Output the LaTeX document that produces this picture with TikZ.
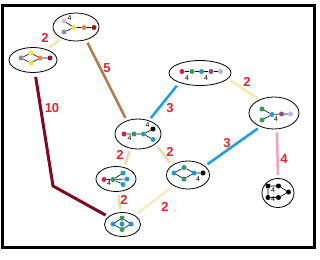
\documentclass[tikz,border=0pt]{standalone}
\usepackage{fontspec}
\setmainfont{Liberation Sans}
\usetikzlibrary{shapes.geometric}
\definecolor{lblred}{HTML}{E8222C}
\definecolor{cpale}{HTML}{EDE4B4}
\definecolor{cyel}{HTML}{F0EBB0}
\definecolor{cbeige}{HTML}{F2D8A6}
\definecolor{cpale2}{HTML}{F2EDC4}
\definecolor{cbrown}{HTML}{B5784A}
\definecolor{cmaroon}{HTML}{7F0A1F}
\definecolor{cblue}{HTML}{1AA0DC}
\definecolor{cpink}{HTML}{F0A4BC}
\definecolor{dred}{HTML}{E0203A}
\definecolor{dgreen}{HTML}{2E9E5A}
\definecolor{dblue}{HTML}{1E9BD7}
\definecolor{dpurple}{HTML}{8E4A8E}
\definecolor{dlav}{HTML}{B8B8D8}
\definecolor{dyellow}{HTML}{F2E23A}
\definecolor{dorange}{HTML}{F08040}
\definecolor{ddark}{HTML}{8B1A2A}
\definecolor{dgray}{HTML}{8C8CA8}
\definecolor{dpinkd}{HTML}{F0B0C8}
\begin{document}
\begin{tikzpicture}[x=1pt,y=-1pt,
  ell/.style={ellipse, draw=black, line width=0.8pt, inner sep=0pt, fill=white},
  dot/.style={circle, inner sep=0pt, minimum size=5pt},
  gedge/.style={line width=0.6pt, black},
  conn/.style={line width=2.5pt, shorten <=3pt, shorten >=3pt},
  lbl/.style={text=lblred, font=\fontsize{13}{13}\selectfont\bfseries, inner sep=0pt},
  four/.style={font=\fontsize{7}{7}\selectfont, inner sep=0pt}]
\useasboundingbox (0,0) rectangle (320,259);
\draw[line width=3pt] (2.5,5.5) rectangle (314.5,247.5);

% ellipses
\node[ell, minimum width=46pt, minimum height=28pt] (E1) at (76,27) {};
\node[ell, minimum width=48pt, minimum height=25pt] (E2) at (33,60) {};
\node[ell, minimum width=46pt, minimum height=30pt] (E3) at (138,134) {};
\node[ell, minimum width=62pt, minimum height=25pt] (E4) at (200,73) {};
\node[ell, minimum width=50pt, minimum height=32pt] (E5) at (274,113) {};
\node[ell, minimum width=40pt, minimum height=25pt] (E6) at (116,179) {};
\node[ell, minimum width=43pt, minimum height=28pt] (E7) at (188,175) {};
\node[ell, minimum width=36pt, minimum height=24pt] (E8) at (122.5,224.5) {};
\node[ell, minimum width=32pt, minimum height=29pt] (E9) at (278,193) {};

% connectors
\coordinate (c10) at (53,186);
\draw[conn, cpale] (E2) -- (E1);
\draw[conn, cbrown] (E1.-52) -- (E3.130);
\draw[conn, cmaroon, line width=3pt, shorten <=4pt] (E2) -- (c10) -- (E8);
\draw[conn, cblue, shorten >=4pt] (E3) -- (E4.205);
\draw[conn, cyel] (E4.-12) -- (E5.137);
\draw[conn, cpink] (E5.-80) -- (E9.north);
\draw[conn, cblue] (E7.28) -- (E5.225);
\draw[conn, cbeige] (E3.-118) -- (E6.55);
\draw[conn, cbeige] (E3.-29) -- (E7.149);
\draw[conn, cbeige] (E6.-80) -- (E8.100);
\draw[conn, cpale2] (E8) -- (E7);

% labels
\node[lbl] (l1) at (45,38) {2};
\node[lbl] (l2) at (107,68) {5};
\node[lbl] (l3) at (52,108) {10};
\node[lbl] (l4) at (170,108) {3};
\node[lbl] (l5) at (247,82) {2};
\node[lbl] (l6) at (227,143) {3};
\node[lbl] (l7) at (284,159) {4};
\node[lbl] (l8) at (120,155) {2};
\node[lbl] (l9) at (170,152) {2};
\node[lbl] (l10) at (124,200) {2};
\node[lbl] (l11) at (165,207) {2};

% E1 graph
\node[dot, fill=dpinkd] (a1) at (64,21) {};
\node[dot, fill=dgray] (a2) at (64,32) {};
\node[dot, fill=dyellow] (a3) at (74,27.5) {};
\node[dot, fill=dorange] (a4) at (84,27.5) {};
\node[dot, fill=ddark] (a5) at (94,27.5) {};
\node[four] (a6) at (69.5,18.5) {4};
\draw[gedge] (a1) -- (a3) (a2) -- (a3) (a3) -- (a4) -- (a5);

% E2 graph
\node[dot, fill=dgray] (b1) at (21,58) {};
\node[dot, fill=dyellow] (b2) at (31,53) {};
\node[dot, fill=dyellow] (b3) at (31,63) {};
\node[dot, fill=dorange] (b4) at (40,58) {};
\node[dot, fill=ddark] (b5) at (50,58) {};
\draw[gedge] (b1) -- (b2) -- (b4) -- (b3) -- (b1) (b4) -- (b5);

% E3 graph
\node[dot, fill=dred] (c1) at (124,134) {};
\node[dot, fill=dgreen] (c2) at (134,134) {};
\node[dot, fill=dblue] (c3) at (143.5,134) {};
\node[dot, fill=dblue] (c4) at (153,139.5) {};
\node[dot, fill=black] (c5) at (153,129) {};
\node[four] (c6) at (129.5,138.5) {4};
\node[four] (c7) at (147.5,125.5) {4};
\draw[gedge] (c1) -- (c2) -- (c3) -- (c4) (c3) -- (c5);

% E4 graph
\node[dot, fill=dred] (d1) at (182,71.5) {};
\node[dot, fill=dgreen] (d2) at (192,71.5) {};
\node[dot, fill=dblue] (d3) at (201.5,71.5) {};
\node[dot, fill=dpurple] (d4) at (211,71.5) {};
\node[dot, fill=dlav] (d5) at (220.5,71.5) {};
\node[four] (d6) at (187,78) {4};
\node[four] (d7) at (206,78) {4};
\draw[gedge] (d1) -- (d2) -- (d3) -- (d4) -- (d5);

% E5 graph
\node[dot, fill=dgreen] (e1) at (262,109) {};
\node[dot, fill=dgreen] (e2) at (262,120) {};
\node[dot, fill=dblue] (e3) at (272,114.5) {};
\node[dot, fill=dpurple] (e4) at (281.5,114) {};
\node[dot, fill=dlav] (e5) at (290.5,114) {};
\node[four] (e6) at (276,119.5) {4};
\draw[gedge] (e1) -- (e3) (e2) -- (e3) (e3) -- (e4) -- (e5);

% E6 graph
\node[dot, fill=dred] (f1) at (104,179.5) {};
\node[dot, fill=dgreen] (f2) at (113,179.5) {};
\node[dot, fill=dblue] (f3) at (123,173) {};
\node[dot, fill=dblue] (f4) at (127,179) {};
\node[dot, fill=dblue] (f5) at (123,184.5) {};
\node[four] (f6) at (109,183.5) {4};
\draw[gedge] (f1) -- (f2) -- (f3) (f2) -- (f4) (f2) -- (f5);

% E7 graph
\node[dot, fill=dblue] (g1) at (174,173) {};
\node[dot, fill=dgreen] (g2) at (184,167.5) {};
\node[dot, fill=dgreen] (g3) at (184,179) {};
\node[dot, fill=dblue] (g4) at (194,173) {};
\node[dot, fill=black] (g5) at (203,173) {};
\node[four] (g6) at (198,179) {4};
\draw[gedge] (g1) -- (g2) -- (g4) -- (g3) -- (g1) (g4) -- (g5);

% E8 graph
\node[dot, fill=dblue] (h1) at (113,224) {};
\node[dot, fill=dgreen] (h2) at (122,218) {};
\node[dot, fill=dblue] (h3) at (122,224) {};
\node[dot, fill=dgreen] (h4) at (122,229.5) {};
\node[dot, fill=dblue] (h5) at (131,224) {};
\draw[gedge] (h1) -- (h2) -- (h5) -- (h4) -- (h1) (h2) -- (h3) -- (h4);

% E9 graph
\node[dot, fill=black] (k1) at (268,186) {};
\node[dot, fill=black] (k2) at (278.5,186) {};
\node[dot, fill=black] (k3) at (288.5,192) {};
\node[dot, fill=black] (k4) at (278.5,197.5) {};
\node[dot, fill=black] (k5) at (268,197.5) {};
\node[four] (k6) at (273,190.5) {4};
\node[four] (k7) at (273,199.5) {4};
\draw[gedge] (k1) -- (k2) -- (k3) -- (k4) -- (k5) -- (k1);
\end{tikzpicture}
\end{document}
